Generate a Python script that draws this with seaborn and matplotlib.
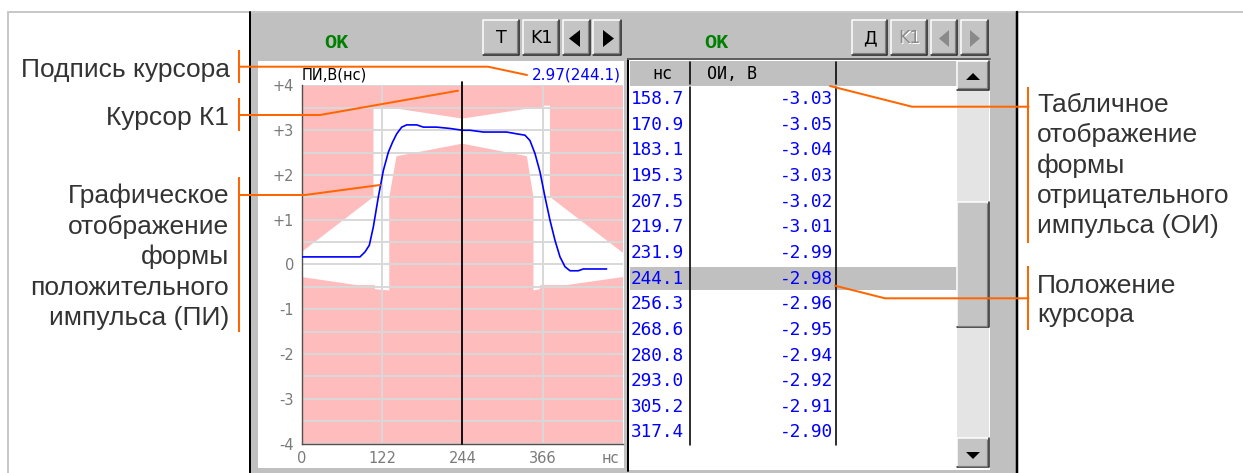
import numpy as np
import pandas as pd
import seaborn as sns
import matplotlib
matplotlib.use("Agg")
import matplotlib.pyplot as plt
from matplotlib.patches import Rectangle, Polygon

# ---------------- data ----------------
# positive pulse (ПИ) waveform, ns / V
pi_t = [0, 88.5, 96.1, 102.7, 108.8, 116.4, 124.0, 131.6, 138.2, 144.3, 151.9,
        159.5, 174.7, 184.7, 205.0, 225.2, 243.9, 255.6, 275.8, 311.3, 326.5,
        339.1, 346.7, 354.3, 361.9, 369.5, 377.1, 384.7, 392.3, 399.9, 407.5,
        420.1, 427.7, 463.1]
pi_v = [0.17, 0.17, 0.28, 0.43, 0.84, 1.51, 2.10, 2.51, 2.74, 2.92, 3.07,
        3.12, 3.12, 3.07, 3.07, 3.04, 3.00, 3.00, 2.96, 2.96, 2.92,
        2.89, 2.77, 2.48, 2.07, 1.51, 0.99, 0.54, 0.17, -0.05, -0.14,
        -0.14, -0.10, -0.10]

# tolerance mask: allowed (white) zone and forbidden inner zone
mask_outer_x = [0, 109, 109, 146, 244, 342, 365, 365, 377, 377, 488,
                488, 402, 362, 362, 352, 133, 111, 111, 83.5, 0]
mask_outer_y = [0.28, 1.51, 3.48, 3.48, 3.26, 3.48, 3.48, 3.55, 3.55, 1.51, 0.26,
                -0.28, -0.46, -0.46, -0.55, -0.58, -0.58, -0.55, -0.46, -0.46, -0.28]
mask_inner_x = [133, 133, 144, 244, 342, 352, 352]
mask_inner_y = [-0.70, 1.50, 2.42, 2.70, 2.42, 1.50, -0.70]

# table of negative pulse (ОИ)
table_ns = [158.7, 170.9, 183.1, 195.3, 207.5, 219.7, 231.9, 244.1,
            256.3, 268.6, 280.8, 293.0, 305.2, 317.4]
table_oi = [-3.03, -3.05, -3.04, -3.03, -3.02, -3.01, -2.99, -2.98,
            -2.96, -2.95, -2.94, -2.92, -2.91, -2.90]
cursor_row = 7

cursor_t = 244.1
cursor_v = 2.97

y_ticks = [4, 3, 2, 1, 0, -1, -2, -3, -4]
y_tick_labels = ["+4", "+3", "+2", "+1", "0", "-1", "-2", "-3", "-4"]
x_ticks = [0, 122, 244, 366]
x_tick_labels = ["0", "122", "244", "366"]

left_labels = ["Подпись курсора", "Курсор К1"]
left_block = ["Графическое", "отображение", "формы", "положительного", "импульса (ПИ)"]
right_block = ["Табличное", "отображение", "формы", "отрицательного", "импульса (ОИ)"]
right_block2 = ["Положение", "курсора"]

# ---------------- figure ----------------
sns.set_style("white")
plt.rcParams["font.family"] = ["DejaVu Sans"]

W, H = 1243, 473
fig = plt.figure(figsize=(W / 100, H / 100), dpi=100)
fig.patch.set_facecolor("white")


def frect(x0, y0, x1, y1):
    return [x0 / W, 1 - y1 / H, (x1 - x0) / W, (y1 - y0) / H]


bg = fig.add_axes([0, 0, 1, 1], zorder=0)
bg.set_xlim(0, W)
bg.set_ylim(H, 0)
bg.axis("off")

GRAY = "#c0c0c0"
PX = 0.72  # points per pixel

# outer light frame
bg.plot([8, W], [12, 12], color="#c8c8c8", lw=2 * PX)
bg.plot([8, 8], [12, H], color="#c8c8c8", lw=2 * PX)
# panel
bg.add_patch(Rectangle((251, 13), 1016 - 251, H - 13, fc=GRAY, ec="none"))
bg.plot([250, 250], [12, H], color="black", lw=2 * PX)
bg.plot([1017.5, 1017.5], [12, H], color="black", lw=2.5 * PX)

# plot white frame
bg.add_patch(Rectangle((258, 61), 624 - 258, 468 - 61, fc="white", ec="none"))


def button(x0, y0, x1, y1):
    bg.add_patch(Rectangle((x0, y0), x1 - x0, y1 - y0, fc="#c4c4c4", ec="none"))
    bg.plot([x0, x0, x1], [y1, y0, y0], color="white", lw=1.5 * PX)
    bg.plot([x0, x1, x1], [y1, y1, y0], color="#202020", lw=1.5 * PX)
    bg.plot([x0 + 1.5, x1 - 1.5, x1 - 1.5], [y1 - 1.5, y1 - 1.5, y0 + 1.5],
            color="#808080", lw=1.2 * PX)


# toolbar left
bg.text(336, 42, "OK", color="#008000", fontsize=14.5, fontweight="bold",
        family="Liberation Mono", ha="center", va="center")
for b in [(483, 20, 519, 55), (523, 20, 559, 55), (563, 20, 590, 55), (593, 20, 621, 55)]:
    button(*b)
bg.text(501, 38, "T", fontsize=12.5, ha="center", va="center", color="black")
bg.text(541, 38, "K1", fontsize=12.5, ha="center", va="center", color="black")
bg.add_patch(Polygon([(569, 38.5), (580, 30), (580, 47)], closed=True, fc="black", ec="none"))
bg.add_patch(Polygon([(603, 30), (603, 47), (614, 38.5)], closed=True, fc="black", ec="none"))

# toolbar right
bg.text(716, 42, "OK", color="#008000", fontsize=14.5, fontweight="bold",
        family="Liberation Mono", ha="center", va="center")
for b in [(852, 20, 887, 55), (891, 20, 927, 55), (931, 20, 957, 55), (961, 20, 988, 55)]:
    button(*b)
bg.text(869.5, 38, "Д", fontsize=12.5, ha="center", va="center", color="black")
bg.text(910, 39, "K1", fontsize=12.5, ha="center", va="center", color="white")
bg.text(909, 38, "K1", fontsize=12.5, ha="center", va="center", color="#8a8a8a")
bg.add_patch(Polygon([(939, 38.5), (949, 30), (949, 47)], closed=True, fc="#8a8a8a", ec="none"))
bg.add_patch(Polygon([(970, 30), (970, 47), (980, 38.5)], closed=True, fc="#8a8a8a", ec="none"))

# table
bg.add_patch(Rectangle((629, 60), 990 - 629, 470 - 60, fc="white", ec="none"))
bg.add_patch(Rectangle((630, 61), 957 - 630, 86 - 61, fc=GRAY, ec="none"))
row_y0 = 99.0
row_dy = 25.65
hy = row_y0 + cursor_row * row_dy
bg.add_patch(Rectangle((630, hy - 11.5), 957 - 630, 23, fc=GRAY, ec="none"))
bg.plot([628.5, 628.5], [59, 471], color="black", lw=2 * PX)
bg.plot([628, 990], [59.5, 59.5], color="#606060", lw=2 * PX)
for cx in [690, 836]:
    bg.plot([cx, cx], [62, 84], color="black", lw=1.6 * PX)
    bg.plot([cx, cx], [87, 445], color="black", lw=1.6 * PX)
bg.text(662.5, 74, "нс", family="DejaVu Sans Mono", fontsize=12, ha="center", va="center", color="black")
bg.text(707, 74, "ОИ, В", family="DejaVu Sans Mono", fontsize=12, ha="left", va="center", color="black")
for i, (t, v) in enumerate(zip(table_ns, table_oi)):
    y = row_y0 + i * row_dy
    bg.text(631, y, f"{t:.1f}", family="DejaVu Sans Mono", fontsize=12.8,
            ha="left", va="center", color="#0000ff")
    bg.text(833, y, f"{v:.2f}", family="DejaVu Sans Mono", fontsize=12.8,
            ha="right", va="center", color="#0000ff")

# scrollbar
bg.add_patch(Rectangle((957, 90), 32, 438 - 90, fc="#e4e4e4", ec="none"))
button(957, 61, 989, 90)
button(957, 202, 989, 327)
button(957, 438, 989, 467)
bg.add_patch(Polygon([(966, 80), (980, 80), (973, 73)], closed=True, fc="black", ec="none"))
bg.add_patch(Polygon([(966, 452), (980, 452), (973, 459)], closed=True, fc="black", ec="none"))

# ---------------- chart axes ----------------
ax = fig.add_axes(frect(301.7, 85.5, 623, 443.5), zorder=2)
ax.set_facecolor("#ffbcbc")
ax.fill(mask_outer_x, mask_outer_y, color="white", lw=0, zorder=1)
ax.fill(mask_inner_x, mask_inner_y, color="#ffbcbc", lw=0, zorder=1.1)
ax.set_xlim(0, 488)
ax.set_ylim(-4, 4)
ax.set_axisbelow("line")
ax.set_yticks(y_ticks)
ax.set_yticklabels(y_tick_labels)
ax.set_yticks([-3.5, -2.5, -1.5, -0.5, 0.5, 1.5, 2.5, 3.5], minor=True)
ax.set_xticks(x_ticks)
ax.set_xticklabels(x_tick_labels)
ax.grid(True, which="both", color="#d8d8d8", lw=1.4)
ax.tick_params(which="minor", length=0)
ax.tick_params(which="major", direction="out", length=2.4, width=0.9, color="#505050",
               labelcolor="#7a7a7a", labelsize=10.5, pad=3)
for s in ["top", "right"]:
    ax.spines[s].set_visible(False)
for s in ["left", "bottom"]:
    ax.spines[s].set_color("#505050")
    ax.spines[s].set_linewidth(1.0)

df = pd.DataFrame({"t": pi_t, "v": pi_v})
sns.lineplot(data=df, x="t", y="v", ax=ax, color="#0000ff", lw=1.2,
             estimator=None, sort=False, zorder=3)
ax.set_xlabel("")
ax.set_ylabel("")
ax.plot([cursor_t, cursor_t], [-4, 4.08], color="black", lw=1.3, zorder=4, clip_on=False)

bg.text(302, 75, "ПИ,В(нс)", fontsize=10.5, ha="left", va="center", color="black")
bg.text(621, 75, f"{cursor_v:.2f}({cursor_t:.1f})", fontsize=11, ha="right",
        va="center", color="#0000ff")
bg.text(610, 458, "нс", fontsize=10.5, ha="center", va="center", color="#7a7a7a")

# ---------------- annotations ----------------
ov = fig.add_axes([0, 0, 1, 1], zorder=10)
ov.set_xlim(0, W)
ov.set_ylim(H, 0)
ov.axis("off")
ov.patch.set_alpha(0)

OR = "#ff6600"
LW = 2 * PX
TXT = "#333333"
FS = 19

# left brackets
for (y0, y1) in [(50, 83), (98, 131), (177, 332)]:
    ov.plot([239, 239], [y0, y1], color=OR, lw=LW, solid_capstyle="butt")
ov.plot([239, 488, 527], [66.7, 66.7, 75], color=OR, lw=LW)
ov.plot([239, 320, 458], [115, 115, 90.7], color=OR, lw=LW)
ov.plot([239, 305, 380], [195, 195, 185], color=OR, lw=LW)
# right brackets
for (y0, y1) in [(87, 243), (266, 330)]:
    ov.plot([1028.5, 1028.5], [y0, y1], color=OR, lw=LW, solid_capstyle="butt")
ov.plot([1028.5, 912, 830], [106.7, 106.7, 86], color=OR, lw=LW)
ov.plot([1028.5, 885, 835], [298.3, 298.3, 285.7], color=OR, lw=LW)

ov.text(230, 77.3, left_labels[0], family="Liberation Sans", fontsize=FS, color=TXT,
        ha="right", va="baseline")
ov.text(229, 125, left_labels[1], family="Liberation Sans", fontsize=FS, color=TXT,
        ha="right", va="baseline")
for i, s in enumerate(left_block):
    ov.text(229, 203.3 + i * 30.45, s, family="Liberation Sans", fontsize=FS, color=TXT,
            ha="right", va="baseline")
for i, s in enumerate(right_block):
    ov.text(1037, 111.7 + i * 30.4, s, family="Liberation Sans", fontsize=FS, color=TXT,
            ha="left", va="baseline")
for i, s in enumerate(right_block2):
    ov.text(1037, 293.3 + i * 28.5, s, family="Liberation Sans", fontsize=FS, color=TXT,
            ha="left", va="baseline")

fig.savefig("out.png", dpi=100, facecolor="white")
